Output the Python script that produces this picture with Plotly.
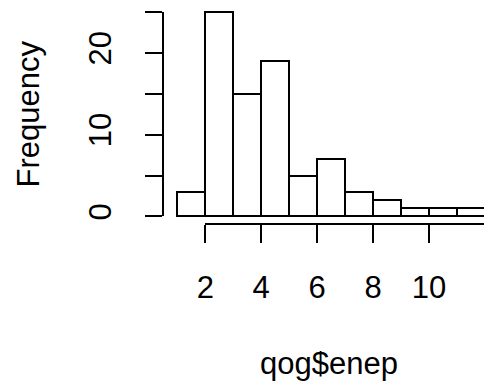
import plotly.graph_objects as go

# Histogram of effective number of electoral parties (bin width 1)
bin_left = [1, 2, 3, 4, 5, 6, 7, 8, 9, 10, 11]
counts = [3, 25, 15, 19, 5, 7, 3, 2, 1, 1, 1]
x_ticks = [2, 4, 6, 8, 10, 12]
y_ticks = [0, 5, 10, 15, 20, 25]
y_ticklabels = ["0", "", "10", "", "20", ""]

W, H = 484, 382
FONT = "Liberation Sans, Arial, Helvetica, sans-serif"
FS = 31

# pixel geometry of the plotting region
px_per_x = 28.5
x0_px = 200.0          # pixel column of x = 2
y0_px = 218.7          # pixel row of y = 0
px_per_y = 8.256
xaxis_row = 226.7      # detached x axis row
yaxis_col = 157.0      # detached y axis column

x_lo = 2 - x0_px / px_per_x
x_hi = x_lo + W / px_per_x
y_lo = -(H - y0_px) / px_per_y
y_hi = y0_px / px_per_y

mids = [b + 0.5 for b in bin_left]

fig = go.Figure()
fig.add_trace(go.Bar(
    x=mids, y=counts, width=1,
    marker=dict(color="white", line=dict(color="black", width=2)),
    xaxis="x", yaxis="y", hoverinfo="skip", showlegend=False,
))
# invisible trace to host the detached axes
fig.add_trace(go.Scatter(
    x=[2], y=[0], mode="markers", marker=dict(opacity=0),
    xaxis="x2", yaxis="y2", hoverinfo="skip", showlegend=False,
))

fig.update_layout(
    width=W, height=H,
    margin=dict(l=0, r=0, t=0, b=0),
    paper_bgcolor="white", plot_bgcolor="rgba(0,0,0,0)",
    font=dict(family=FONT, size=FS, color="black"),
    bargap=0,
    xaxis=dict(domain=[0, 1], range=[x_lo, x_hi], visible=False, fixedrange=True),
    yaxis=dict(domain=[0, 1], range=[y_lo, y_hi], visible=False, fixedrange=True),
    xaxis2=dict(
        domain=[x0_px / W, 1], range=[2, 2 + (W - x0_px) / px_per_x],
        anchor="free", position=1 - xaxis_row / H,
        showline=True, linecolor="black", linewidth=2,
        ticks="outside", ticklen=18, tickwidth=2, tickcolor="black",
        tickvals=x_ticks, ticktext=[str(v) for v in x_ticks],
        showgrid=False, zeroline=False,
        tickfont=dict(family=FONT, size=FS, color="black"),
        ticklabelstandoff=17,
    ),
    yaxis2=dict(
        domain=[1 - y0_px / H, 1 - (y0_px - 25 * px_per_y) / H], range=[0, 25],
        anchor="free", position=yaxis_col / W,
        showline=True, linecolor="black", linewidth=2,
        ticks="outside", ticklen=17, tickwidth=2, tickcolor="black",
        tickvals=y_ticks, ticktext=y_ticklabels, tickangle=-90,
        showgrid=False, zeroline=False,
        tickfont=dict(family=FONT, size=FS, color="black"),
        ticklabelstandoff=22,
    ),
    annotations=[
        dict(text="qog$enep", xref="paper", yref="paper",
             x=326.5 / W, y=1 - 367 / H, xanchor="center", yanchor="middle",
             showarrow=False, font=dict(family=FONT, size=FS, color="black")),
        dict(text="Frequency", xref="paper", yref="paper",
             x=20 / W, y=1 - 115 / H, xanchor="center", yanchor="middle",
             textangle=-90, showarrow=False,
             font=dict(family=FONT, size=FS, color="black")),
    ],
)

fig.write_html("out.html")
